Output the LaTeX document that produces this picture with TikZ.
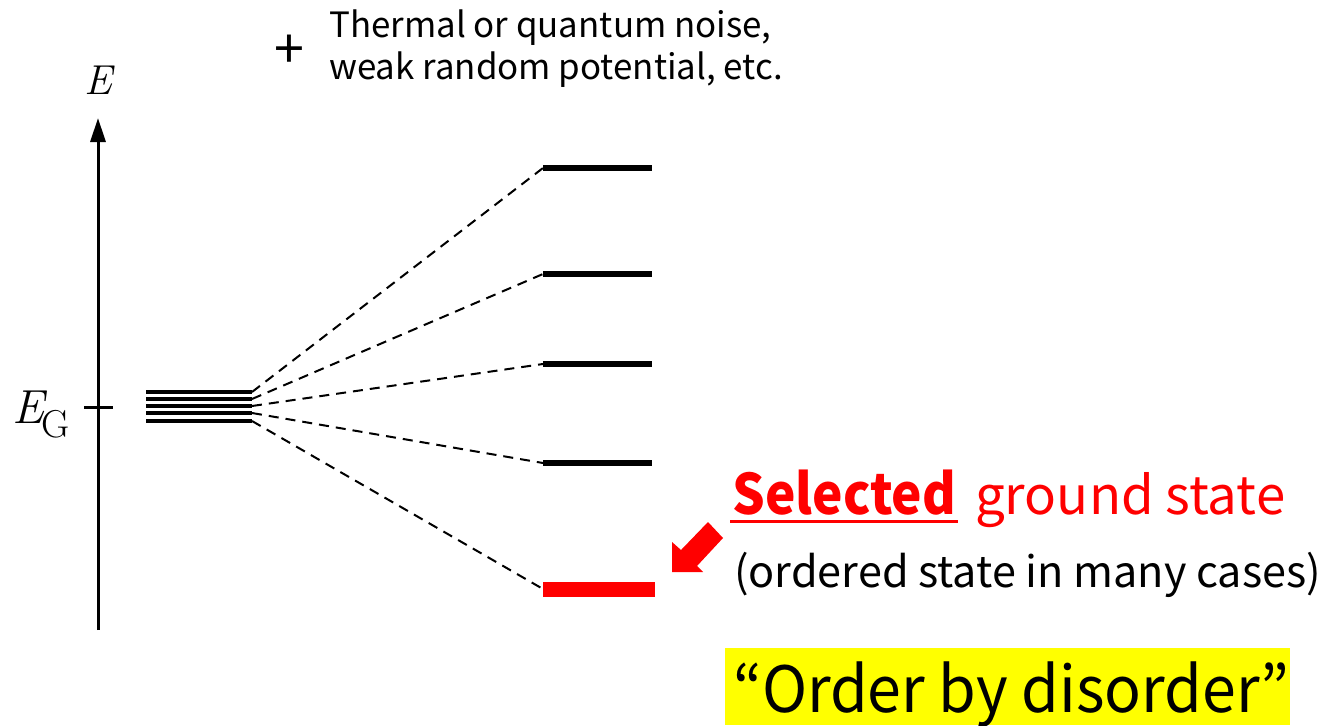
\documentclass[tikz,border=0pt]{standalone}
\usepackage{fontspec}
\usetikzlibrary{arrows.meta,calc}
\newfontfamily\jp{Noto Sans CJK JP}
\newfontfamily\jpsel[FakeStretch=0.92]{Noto Sans CJK JP}
\newfontfamily\jpobd[FakeStretch=0.955]{Noto Sans CJK JP}
\definecolor{pred}{RGB}{255,0,0}
\definecolor{pyel}{RGB}{255,255,0}
\tikzset{
  lvl/.style={line width=5.5bp},
  deg/.style={line width=3.5bp},
  conn/.style={line width=2bp, dash pattern=on 10bp off 7bp},
  txt/.style={inner sep=0pt, anchor=base west},
}
\begin{document}
\begin{tikzpicture}[x=1bp,y=-1bp]
\useasboundingbox (0,0) rectangle (1324,725);
% axis
\coordinate (ab) at (98,630);
\coordinate (at) at (98,118);
\draw[line width=3bp,-{Triangle[width=15bp,length=24bp]}] (ab) -- (at);
\node[txt] (elab) at (84,95) {\fontsize{42}{42}\selectfont\itshape E};
\coordinate (tl) at (84,407);
\coordinate (tr) at (113,407);
\draw[line width=3bp] (tl) -- (tr);
\node[txt] (eg) at (12,423) {\fontsize{48}{48}\selectfont\itshape E\upshape\kern-2bp\raisebox{-14bp}{\fontsize{39}{39}\selectfont G}};
% degenerate levels
\foreach \i/\y in {1/392,2/399,3/406,4/413,5/421}{
  \coordinate (a\i) at (146,\y);
  \coordinate (d\i) at (252,\y);
  \draw[deg] (a\i) -- (d\i);
}
% split levels
\foreach \i/\y in {1/168,2/274,3/364,4/463}{
  \coordinate (l\i) at (543,\y);
  \coordinate (r\i) at (652,\y);
  \draw[lvl] (l\i) -- (r\i);
}
\coordinate (l5) at (543,589);
\fill[pred] (543,582) rectangle (655,597);
\foreach \i in {1,...,5}{ \draw[conn] (d\i) -- (l\i); }
% red arrow
\fill[pred] (672,572) -- (672,542) -- (681,550) -- (708,522) -- (723,538) -- (697,566) -- (703,572) -- cycle;
% texts
\node[inner sep=0pt] (plus) at (289,52) {\jp\fontsize{54}{54}\selectfont\addfontfeature{Weight=Light}+};
\node[txt] (t1) at (329,38) {\jp\fontsize{35}{35}\selectfont Thermal or quantum noise,};
\node[txt] (t2) at (329,80) {\jp\fontsize{35}{35}\selectfont weak random potential, etc.};
\node[txt, text=pred] (sel) at (732,514) {\jpsel\fontsize{56}{56}\selectfont\bfseries Selected};
\draw[pred, line width=3bp] ($(sel.base west)+(-2,7)$) -- ($(sel.base east)+(2,7)$);
\node[txt, text=pred] (gs) at (975,514) {\jp\fontsize{53}{53}\selectfont ground state};
\node[txt] (oc) at (734,587) {\jp\fontsize{43.3}{43.3}\selectfont (ordered state in many cases)};
\fill[pyel] (725,648) rectangle (1290,725);
\node[txt] (obd) at (733,712) {\jpobd\fontsize{64}{64}\selectfont “Order by disorder”};
\end{tikzpicture}
\end{document}
